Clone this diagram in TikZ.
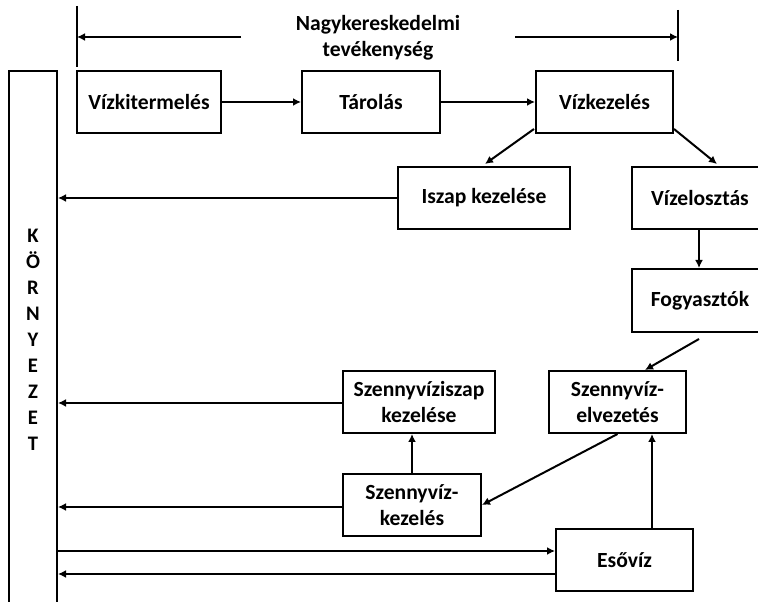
\documentclass[tikz,border=0pt]{standalone}
\usepackage{fontspec}
\setmainfont{Carlito}
\usetikzlibrary{arrows.meta,calc}
\begin{document}
\begin{tikzpicture}[x=0.75pt,y=-0.75pt,
  box/.style={draw,line width=1.5pt,rectangle,inner sep=0pt,align=center,
    font=\bfseries\fontsize{16.2}{19.5}\selectfont},
  conn/.style={line width=1.5pt,-{Latex[length=6pt,width=6pt]}},
  plain/.style={line width=1.5pt},
  lbl/.style={align=center,font=\bfseries\fontsize{15.5}{19.5}\selectfont,inner sep=0pt}]
\useasboundingbox (0,0) rectangle (758,602);
% top bracket
\node[lbl,font=\bfseries\fontsize{16.2}{19.5}\selectfont] (title) at (378,37.5) {Nagykereskedelmi\\tevékenység};
\coordinate (lt) at (77,6); \coordinate (lb) at (77,67);
\coordinate (rt) at (678,10); \coordinate (rb) at (678,61);
\coordinate (la) at (241,37); \coordinate (ra) at (515,37);
\draw[plain] (lt) -- (lb);
\draw[plain] (rt) -- (rb);
\draw[conn] (la) -- (la -| lt);
\draw[conn] (ra) -- (ra -| rt);
% environment column
\node[draw,line width=1.5pt,minimum width=48*0.75pt,minimum height=569*0.75pt,inner sep=0pt] (korny) at (33,355.5) {};
\node[lbl] (kornytxt) at (33,340) {K\\Ö\\R\\N\\Y\\E\\Z\\E\\T};
% boxes
\node[box,minimum width=144*0.75pt,minimum height=62*0.75pt] (vizki) at (149,102) {Vízkitermelés};
\node[box,minimum width=138*0.75pt,minimum height=62*0.75pt] (tarolas) at (371,102) {Tárolás};
\node[box,minimum width=137*0.75pt,minimum height=62*0.75pt] (vizkez) at (604.5,102) {Vízkezelés};
\node[box,minimum width=172*0.75pt,minimum height=62*0.75pt] (iszap) at (484,198) {Iszap kezelése};
\node[box,minimum width=136*0.75pt,minimum height=62*0.75pt] (vizelo) at (700,198) {Vízelosztás};
\node[box,minimum width=136*0.75pt,minimum height=63*0.75pt] (fogy) at (700,300.5) {Fogyasztók};
\node[box,minimum width=137*0.75pt,minimum height=62*0.75pt] (szelv) at (617.5,402) {Szennyvíz-\\elvezetés};
\node[box,minimum width=152*0.75pt,minimum height=62*0.75pt] (sziszap) at (419,402) {Szennyvíziszap\\kezelése};
\node[box,minimum width=138*0.75pt,minimum height=62*0.75pt] (szkez) at (412,505) {Szennyvíz-\\kezelés};
\node[box,minimum width=137*0.75pt,minimum height=62*0.75pt] (eso) at (624.5,560) {Esővíz};
% connectors
\draw[conn] (vizki) -- (tarolas);
\draw[conn] (tarolas) -- (vizkez);
\draw[conn] ($(vizkez.south west)+(-1,-5)$) -- ($(iszap.north)+(1,-2)$);
\draw[conn] ($(vizkez.south east)+(0,-5)$) -- ($(vizelo.north)+(17,-2)$);
\draw[conn] ($(vizelo.south)+(-1,0)$) -- ($(fogy.north)+(-1,0)$);
\draw[conn] ($(fogy.south)+(-1,6)$) -- ($(szelv.north)+(27.5,0)$);
\draw[conn] (szelv.south) -- (szkez.east);
\draw[conn] (szkez.north) -- (szkez.north |- sziszap.south);
\draw[conn] ($(eso.north)+(27.5,0)$) coordinate (e1) -- (e1 |- szelv.south);
\draw[conn] (iszap.west) -- (iszap.west -| korny.east);
\draw[conn] ($(sziszap.west)+(0,1)$) coordinate (s1) -- (s1 -| korny.east);
\draw[conn] ($(szkez.west)+(0,2)$) coordinate (s2) -- (s2 -| korny.east);
\draw[conn] ($(eso.west)+(0,-9)$) coordinate (e2) (e2 -| korny.east) -- (e2);
\draw[conn] ($(eso.west)+(0,14)$) coordinate (e3) -- (e3 -| korny.east);
\end{tikzpicture}
\end{document}
